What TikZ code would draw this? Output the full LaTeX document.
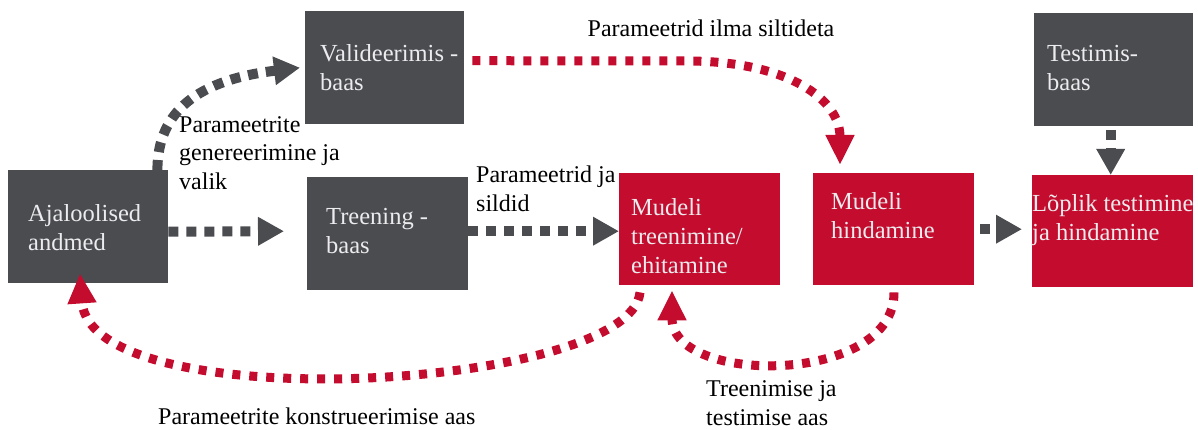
\documentclass[tikz,border=0pt]{standalone}
\usepackage{fontspec}
\setmainfont{Liberation Serif}
\usetikzlibrary{arrows.meta,calc}
\definecolor{dgrey}{RGB}{75,76,80}
\definecolor{dred}{RGB}{196,12,46}
\definecolor{btxtcol}{RGB}{236,236,238}
\begin{document}
\begin{tikzpicture}[x=1pt,y=-1pt,
  gbox/.style={fill=dgrey, draw=none, inner sep=0pt, anchor=north west},
  rbox/.style={fill=dred, draw=none, inner sep=0pt, anchor=north west},
  btxt/.style={text=btxtcol, font=\fontsize{24.5}{29}\selectfont, align=left, inner sep=0pt, anchor=west},
  lbl/.style={text=black, font=\fontsize{24}{28.5}\selectfont, align=left, inner sep=0pt},
  garrow/.style={draw=dgrey, line width=10pt, dash pattern=on 10pt off 8pt, -{Triangle[length=26pt,width=27pt]}},
  rarrow/.style={draw=dred, line width=9pt, dash pattern=on 8pt off 9pt, -{Triangle[length=30pt,width=27pt]}}
]
\useasboundingbox (0,0) rectangle (1198,430);
\fill[white] (0,0) rectangle (1198,430);

% boxes
\node[gbox, minimum width=160pt, minimum height=113pt] (ajal) at (8,170) {};
\node[gbox, minimum width=159pt, minimum height=113pt] (valid) at (305,11) {};
\node[gbox, minimum width=161pt, minimum height=113pt] (treen) at (307,177) {};
\node[rbox, minimum width=161pt, minimum height=112pt] (mtree) at (619,173) {};
\node[rbox, minimum width=161pt, minimum height=112pt] (mhind) at (813,173) {};
\node[rbox, minimum width=161pt, minimum height=112pt] (lop) at (1032,175) {};
\node[gbox, minimum width=159pt, minimum height=113pt] (test) at (1034,13) {};

% box texts
\node[btxt] (ajalT) at (28,228) {Ajaloolised\\andmed};
\node[btxt] (validT) at (320,68) {Valideerimis -\\baas};
\node[btxt] (treenT) at (326,231) {Treening -\\baas};
\node[btxt] (mtreeT) at (631,236) {Mudeli\\treenimine/\\ehitamine};
\node[btxt] (mhindT) at (831,216) {Mudeli\\hindamine};
\node[btxt] (lopT) at (1032,220) {Lõplik testimine\\ja hindamine};
\node[btxt] (testT) at (1047,68) {Testimis-\\baas};

% labels
\node[lbl, anchor=west] (l1) at (179,153) {Parameetrite\\genereerimine ja\\valik};
\node[lbl, anchor=west] (l2) at (476,189) {Parameetrid ja\\sildid};
\node[lbl] (l3) at (711,28) {Parameetrid ilma siltideta};
\node[lbl, anchor=west] (l4) at (706,403) {Treenimise ja\\testimise aas};
\node[lbl, anchor=west] (l5) at (158,416) {Parameetrite konstrueerimise aas};

% grey arrows
\draw[garrow] ($(ajal.east)+(0,5)$) -- ($(treen.west)+(-23,-2.5)$);
\draw[garrow] ($(treen.east)+(0,-2.5)$) -- ($(mtree.west)+(0,2)$);
\draw[garrow] ($(mhind.east)+(6,0)$) -- ($(lop.west)+(-10,-2)$);
\draw[garrow] ($(test.south)+(-3,4)$) -- ($(lop.north)+(-2,0)$);
\draw[garrow] ($(ajal.north east)+(-11,0)$) .. controls +(0,-60) and +(-100,12) .. ($(valid.west)+(-5,0)$);

% red arrows
\coordinate (rtop) at ($(valid.east)+(8,-7)$);
\coordinate (rmid) at ($(mhind.north west)+(-123,-112)$);
\draw[rarrow] (rtop) -- (rmid) .. controls +(100,1) and +(0,-65) .. ($(mhind.north west)+(27,-8)$);
\draw[rarrow] ($(mtree.south west)+(21,7)$) .. controls +(-10,98) and +(10,147) .. ($(ajal.south west)+(72,-10)$);
\draw[rarrow] ($(mhind.south west)+(81,7)$) .. controls +(1,93) and +(0,95) .. ($(mtree.south west)+(53,5)$);
\end{tikzpicture}
\end{document}
